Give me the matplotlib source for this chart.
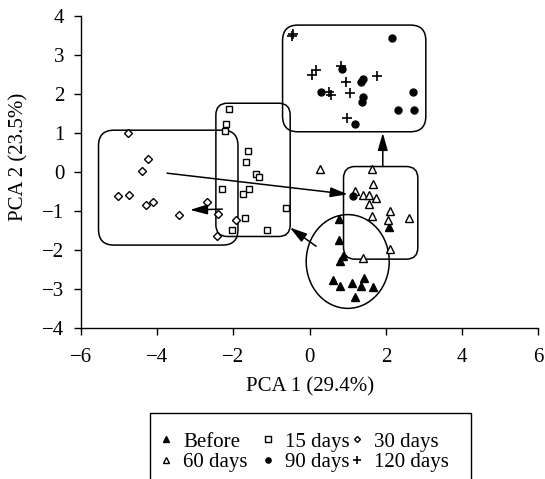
import matplotlib
matplotlib.use("Agg")
import matplotlib.pyplot as plt
from matplotlib.patches import FancyBboxPatch, Ellipse, Rectangle
from matplotlib.lines import Line2D

plt.rcParams['font.family'] = ['Liberation Serif', 'DejaVu Serif']
plt.rcParams['font.size'] = 15

# ---- data (PCA scores) ----
before_x = [0.77, 0.77, 0.87, 0.79, 0.61, 0.80, 1.12, 1.44, 1.35, 1.66, 1.20, 2.08]
before_y = [-1.21, -1.74, -2.15, -2.29, -2.76, -2.93, -2.85, -2.72, -2.93, -2.95, -3.19, -1.42]

d15_x = [-2.11, -2.20, -2.23, -1.61, -1.68, -1.42, -1.33, -2.29, -1.59, -1.76, -0.63, -1.70, -2.05, -1.13]
d15_y = [1.60, 1.23, 1.06, 0.55, 0.26, -0.05, -0.12, -0.43, -0.44, -0.56, -0.92, -1.18, -1.48, -1.48]

d30_x = [-4.77, -4.23, -4.41, -5.04, -4.73, -4.29, -4.10, -3.43, -2.70, -2.40, -1.94, -2.42]
d30_y = [1.00, 0.33, 0.03, -0.61, -0.59, -0.84, -0.78, -1.09, -0.77, -1.08, -1.23, -1.64]

d60_x = [0.28, 1.64, 1.66, 1.20, 1.40, 1.55, 1.73, 1.57, 1.64, 2.12, 2.05, 2.62, 2.12, 1.41]
d60_y = [0.08, 0.07, -0.31, -0.48, -0.59, -0.59, -0.67, -0.82, -1.13, -0.99, -1.23, -1.18, -1.98, -2.21]

d90_x = [2.16, 0.86, 1.35, 1.40, 0.31, 1.40, 1.38, 2.71, 2.31, 2.75, 1.20, 1.15]
d90_y = [3.44, 2.63, 2.31, 2.37, 2.05, 1.91, 1.80, 2.05, 1.59, 1.59, 1.23, -0.62]

d120_x = [-0.44, -0.47, 0.83, 0.16, 0.07, 0.96, 1.76, 0.52, 0.55, 1.05, 0.99]
d120_y = [3.53, 3.47, 2.71, 2.61, 2.48, 2.31, 2.46, 2.05, 1.97, 2.03, 1.37]

labels = ["Before", "15 days", "30 days", "60 days", "90 days", "120 days"]
x_ticks = [-6, -4, -2, 0, 2, 4, 6]
y_ticks = [-4, -3, -2, -1, 0, 1, 2, 3, 4]

# group outlines: (x0, y0, width, height, rounding)
boxes = [(-5.54, -1.87, 3.66, 2.94, 0.40),
         (-2.46, -1.65, 1.95, 3.41, 0.30),
         (-0.71, 1.03, 3.76, 2.73, 0.40),
         (0.89, -2.23, 1.95, 2.37, 0.30)]
ellipse_before = (1.0, -2.29, 2.18, 2.40)
# arrows: (tail_x, tail_y, tip_x, tip_y)
arrows = [(-3.74, -0.03, 1.00, -0.57),
          (-2.29, -0.95, -3.14, -0.97),
          (0.17, -1.90, -0.52, -1.42),
          (1.92, 0.14, 1.92, 1.00)]

W, H = 545, 479
fig = plt.figure(figsize=(W / 100, H / 100), dpi=100)
ax = fig.add_axes([0.1486, 0.3146, 0.839, 0.6526])

ms = 5.5
mew = 1.0
series = [
    (before_x, before_y, dict(marker='^', mfc='black', mec='black')),
    (d15_x, d15_y, dict(marker='s', mfc='white', mec='black', ms=ms - 0.5)),
    (d30_x, d30_y, dict(marker='D', mfc='white', mec='black', ms=ms - 1.5)),
    (d60_x, d60_y, dict(marker='^', mfc='white', mec='black')),
    (d90_x, d90_y, dict(marker='o', mfc='black', mec='black', ms=ms - 0.5)),
    (d120_x, d120_y, dict(marker='+', mfc='black', mec='black', ms=ms + 1.5, mew=1.2)),
]
handles = []
for (xs, ys, st), lab in zip(series, labels):
    kw = dict(ms=ms, mew=mew)
    kw.update(st)
    ax.plot(xs, ys, linestyle='none', zorder=3, **kw)
    lk = dict(kw)
    lk['ms'] = kw['ms'] * 0.75
    handles.append(Line2D([], [], linestyle='none', label=lab, **lk))

for (x0, y0, w, h, r) in boxes:
    p = FancyBboxPatch((x0, y0), w, h, boxstyle=f"round,pad=0,rounding_size={r}",
                       fc='none', ec='black', lw=1.1, zorder=2)
    ax.add_patch(p)
cx, cy, ew, eh = ellipse_before
ax.add_patch(Ellipse((cx, cy), ew, eh, fc='none', ec='black', lw=1.1, zorder=2))

for (x1, y1, x2, y2) in arrows:
    ax.annotate("", xy=(x2, y2), xytext=(x1, y1),
                arrowprops=dict(arrowstyle='-|>,head_length=0.7,head_width=0.2',
                                mutation_scale=15, color='black', lw=1.1,
                                shrinkA=0, shrinkB=0), zorder=4)

ax.set_xlim(-6, 6)
ax.set_ylim(-4, 4)
ax.set_xticks(x_ticks)
ax.set_yticks(y_ticks)
ax.spines['top'].set_visible(False)
ax.spines['right'].set_visible(False)
for s in ('left', 'bottom'):
    ax.spines[s].set_linewidth(1.0)
ax.tick_params(direction='out', length=5, width=1.0, pad=7, labelsize=15)
ax.tick_params(axis='x', pad=9)
ax.set_xlabel("PCA 1 (29.4%)", fontsize=15)
ax.set_ylabel("PCA 2 (23.5%)", fontsize=15)
ax.xaxis.set_label_coords(0.5, -0.158)
ax.yaxis.set_label_coords(-0.115, 0.55)

# legend: one column per group pair, frame drawn separately (bottom edge runs off the image)
columns = [(0, 3), (1, 4), (2, 5)]
col_left_px = [158, 260, 349]
for (i, j), xl in zip(columns, col_left_px):
    fig.legend([handles[i], handles[j]], [labels[i], labels[j]],
               loc='upper left', bbox_to_anchor=(xl / W, 1 - 432 / H),
               frameon=False, fontsize=15, handlelength=0.8, handletextpad=0.4,
               labelspacing=0.05, borderpad=0.0, borderaxespad=0.0)
fig.patches.append(Rectangle((150 / W, -0.05), (471 - 150) / W, (1 - 413 / H) + 0.05,
                             transform=fig.transFigure, fc='none', ec='black', lw=1.0,
                             figure=fig))

fig.savefig("out.png", dpi=100)
